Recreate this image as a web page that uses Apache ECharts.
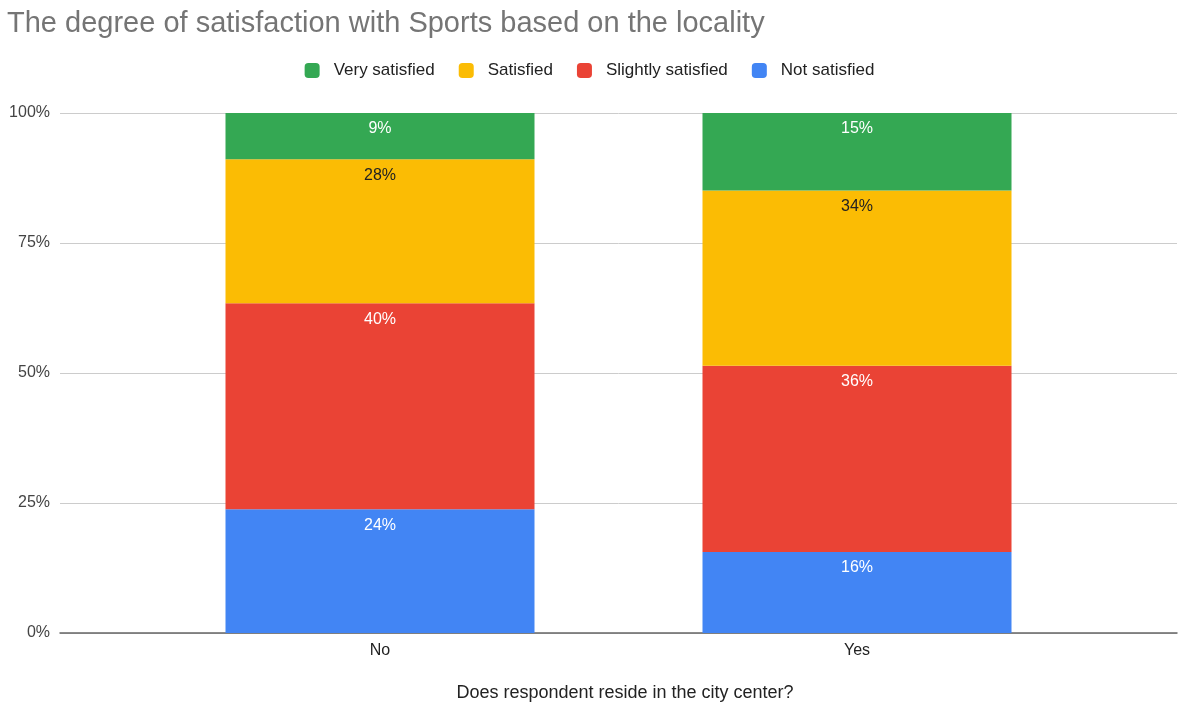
<!DOCTYPE html>
<html>
<head>
<meta charset="utf-8">
<title>Satisfaction with Sports by locality</title>
<script src="https://cdn.jsdelivr.net/npm/echarts@6/dist/echarts.min.js"></script>
<style>
  html, body { margin: 0; padding: 0; background: #fff; }
  #chart { width: 1179px; height: 708px; }
</style>
</head>
<body>
<div id="chart"></div>
<script>
// Residence in the city center (x categories)
const categories = ['No', 'Yes'];

// Share of respondents (%) per satisfaction level
const notSatisfied      = [23.8, 15.6];
const slightlySatisfied = [39.6, 35.8];
const satisfied         = [27.7, 33.7];
const verySatisfied     = [8.9, 14.9];

// Y-axis ticks (%)
const yTicks = [0, 25, 50, 75, 100];

const FONT = '"Liberation Sans", Arial, sans-serif';

function seg(name, data, color, labelColor) {
  return {
    name: name,
    type: 'bar',
    stack: 'total',
    xAxisIndex: 1,
    yAxisIndex: 1,
    data: data,
    barWidth: 309,
    itemStyle: { color: color },
    label: {
      show: true,
      position: 'insideTop',
      distance: 8,
      color: labelColor,
      fontFamily: FONT,
      fontSize: 16,
      formatter: p => Math.round(p.value) + '%'
    },
    emphasis: { disabled: true }
  };
}

const chart = echarts.init(document.getElementById('chart'), null, { renderer: 'canvas' });
chart.setOption({
  animation: false,
  backgroundColor: '#fff',
  title: {
    text: 'The degree of satisfaction with Sports based on the locality',
    left: 2,
    top: 4,
    textStyle: { fontFamily: FONT, fontSize: 29, fontWeight: 'normal', color: '#757575' }
  },
  legend: {
    top: 57,
    left: 'center',
    itemWidth: 15,
    itemHeight: 15,
    itemGap: 24,
    icon: 'roundRect',
    data: ['Very satisfied', 'Satisfied', 'Slightly satisfied', 'Not satisfied'],
    textStyle: { fontFamily: FONT, fontSize: 17, color: '#222', padding: [0, 0, 0, 9] }
  },
  grid: [
    { left: 60, right: 2, top: 113, bottom: 75 },
    { left: 141.5, right: 83.5, top: 113, bottom: 75 }
  ],
  xAxis: [
    {
      gridIndex: 0,
      type: 'value',
      min: 0, max: 1,
      axisLine: { show: true, onZero: false, lineStyle: { color: '#666', width: 1.5 } },
      axisTick: { show: false },
      axisLabel: { show: false },
      splitLine: { show: false }
    },
    {
      gridIndex: 1,
      type: 'category',
      data: categories,
      axisLine: { show: false },
      axisTick: { show: false },
      axisLabel: { fontFamily: FONT, fontSize: 16, color: '#222', margin: 10 },
      name: 'Does respondent reside in the city center?',
      nameLocation: 'middle',
      nameGap: 51,
      nameTextStyle: { fontFamily: FONT, fontSize: 18, color: '#222', padding: [0, 0, 0, 13] }
    }
  ],
  yAxis: [
    {
      gridIndex: 0,
      type: 'value',
      min: yTicks[0],
      max: yTicks[yTicks.length - 1],
      interval: 25,
      axisLine: { show: false },
      axisTick: { show: false },
      axisLabel: { fontFamily: FONT, fontSize: 16, color: '#444', margin: 10, padding: [5, 0, 0, 0], formatter: '{value}%' },
      splitLine: { lineStyle: { color: '#ccc', width: 1 } }
    },
    {
      gridIndex: 1,
      type: 'value',
      min: 0, max: 100,
      show: false,
      splitLine: { show: false }
    }
  ],
  series: [
    seg('Not satisfied', notSatisfied, '#4285F4', '#fff'),
    seg('Slightly satisfied', slightlySatisfied, '#EA4335', '#fff'),
    seg('Satisfied', satisfied, '#FBBC04', '#222'),
    seg('Very satisfied', verySatisfied, '#34A853', '#fff')
  ]
});
</script>
</body>
</html>
